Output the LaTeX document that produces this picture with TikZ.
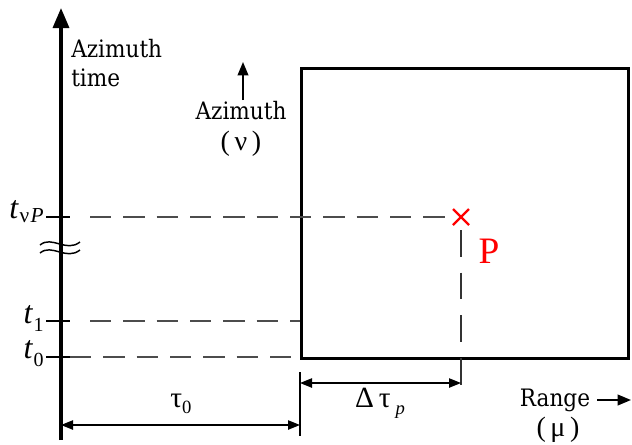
\documentclass[tikz,border=0pt]{standalone}
\usepackage{fontspec}
\setmainfont{DejaVu Serif Condensed}
\newfontfamily\tfont{Liberation Serif}
\usetikzlibrary{arrows.meta,calc}
\begin{document}
\begin{tikzpicture}[x=0.75pt,y=-0.75pt,
  lbl/.style={font=\fontsize{18}{20}\selectfont, inner sep=0pt},
  tl/.style={font=\fontsize{24}{26}\selectfont\tfont\itshape, inner sep=0pt},
  dsh/.style={draw=black!70, line width=0.9pt, dash pattern=on 16pt off 9pt},
  thick axis/.style={line width=2.4pt},
  dim/.style={line width=1pt, {Triangle[length=9pt,width=7pt]}-{Triangle[length=9pt,width=7pt]}}]
\useasboundingbox (0,0) rectangle (632,444);
% main axis
\coordinate (abot) at (61,440);
\coordinate (atop) at (61,8);
\draw[thick axis,-{Triangle[length=15pt,width=12pt]}] (abot) -- (atop);
\node[lbl, anchor=west, align=left] (azt) at (71,63) {Azimuth\\[2pt]time};
% box
\node[draw, line width=2.4pt, minimum width=327*0.75pt, minimum height=290*0.75pt, anchor=north west, inner sep=0pt] (box) at (300,67) {};
% azimuth small arrow
\coordinate (sa1) at (243,100);
\coordinate (sa2) at (243,62);
\draw[line width=1.2pt,-{Triangle[length=10pt,width=8pt]}] (sa1) -- (sa2);
\node[lbl, align=center] (az) at (241,129) {Azimuth\\[3pt]{\tfont\fontsize{21}{21}\selectfont(\,ν\,)}};
% ticks
\foreach \y/\n in {217/tp,321/t1,357/t0}{
  \coordinate (\n a) at (46,\y);
  \coordinate (\n b) at (70,\y);
  \draw[line width=1.6pt] (\n a) -- (\n b);
}
\node[tl, anchor=east] (ltp) at (44,212) {t\kern1pt\raisebox{-3pt}{\upshape\fontsize{16}{16}\selectfont ν\kern1pt\itshape P}};
\node[tl, anchor=east] (lt1) at (44,318) {t\kern1pt\raisebox{-6pt}{\upshape\fontsize{15}{15}\selectfont 1}};
\node[tl, anchor=east] (lt0) at (44,354) {t\kern1pt\raisebox{-6pt}{\upshape\fontsize{15}{15}\selectfont 0}};
% break
\draw[line width=1.1pt] (40,245) .. controls (52,235) and (66,253) .. (80,242);
\draw[line width=1.1pt] (40,253) .. controls (52,243) and (66,261) .. (80,250);
% P marker
\coordinate (P) at (461,217);
\draw[red, line width=1.8pt] ($(P)+(-8,-8)$) -- ($(P)+(8,8)$) ($(P)+(-8,8)$) -- ($(P)+(8,-8)$);
\node[red, font=\fontsize{28}{30}\selectfont\tfont, inner sep=0pt] (Pl) at (489,251) {P};
% dashed lines
\coordinate (d1a) at (90,217); \coordinate (d1b) at (452,217);
\draw[dsh] (d1a) -- (d1b);
\coordinate (d2a) at (90,321); \coordinate (d2b) at (300,321);
\draw[dsh] (d2a) -- (d2b);
\coordinate (d3a) at (70,357); \coordinate (d3b) at (300,357);
\draw[dsh] (d3a) -- (d3b);
\coordinate (vpa) at (461,230); \coordinate (vpb) at (461,388);
\draw[draw=black!80, line width=0.9pt, dash pattern=on 20pt off 12pt] (vpa) -- (vpb);
% extension line at x=300
\coordinate (e1) at (300,372); \coordinate (e2) at (300,436);
\draw[line width=0.8pt] (e1) -- (e2);
% dimensions
\coordinate (ta) at (61,425); \coordinate (tb) at (300,425);
\draw[dim] (ta) -- (tb);
\node[font=\fontsize{22}{24}\selectfont\tfont, inner sep=0pt] (tau0) at (181,404) {τ\raisebox{-4pt}{\fontsize{14}{14}\selectfont 0}};
\coordinate (da) at (300,383); \coordinate (db) at (461,383);
\draw[dim] (da) -- (db);
\node[font=\fontsize{22}{24}\selectfont\tfont, inner sep=0pt] (dtau) at (380,403) {Δ\,τ\,\raisebox{-5pt}{\fontsize{14}{14}\selectfont\itshape p}};
% range
\node[lbl] (rng) at (555,400) {Range};
\coordinate (ra) at (597,400); \coordinate (rb) at (631,400);
\draw[line width=1.4pt,-{Triangle[length=10pt,width=8pt]}] (ra) -- (rb);
\node[font=\fontsize{21}{21}\selectfont\tfont, inner sep=0pt] (mu) at (558,430) {(\,μ\,)};
\end{tikzpicture}
\end{document}
